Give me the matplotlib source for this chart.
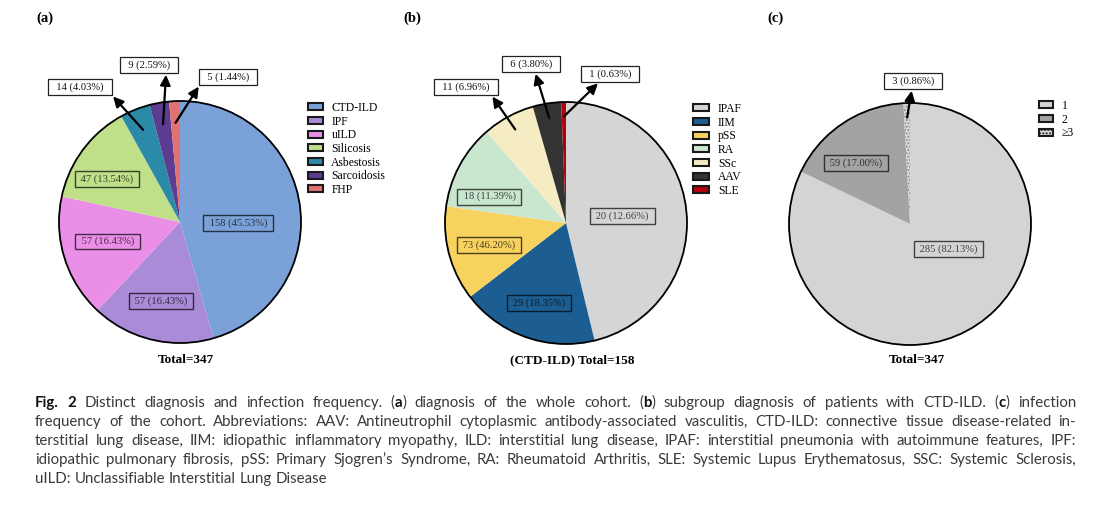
import matplotlib
matplotlib.use("Agg")
import matplotlib.pyplot as plt
import numpy as np
from matplotlib.patches import Circle, Patch
from matplotlib.colors import to_rgb

# ---------------- data ----------------
a_categories = ["CTD-ILD", "IPF", "uILD", "Silicosis", "Asbestosis", "Sarcoidosis", "FHP"]
a_counts = [158, 57, 57, 47, 14, 9, 5]
a_label_counts = [158, 57, 57, 47, 14, 9, 5]
a_total = 347

b_categories = ["IPAF", "IIM", "pSS", "RA", "SSc", "AAV", "SLE"]
b_counts = [73, 29, 20, 18, 11, 6, 1]
b_label_counts = [20, 29, 73, 18, 11, 6, 1]   # numbers as printed on the wedges
b_total = 158

c_categories = ["1", "2", "\u22653"]
c_counts = [285, 59, 3]
c_label_counts = [285, 59, 3]
c_total = 347

panel_letters = ["(a)", "(b)", "(c)"]
panel_totals = ["Total=347", "(CTD-ILD) Total=158", "Total=347"]

caption_lines = [
    "*Fig. 2* Distinct diagnosis and infection frequency. (*a*) diagnosis of the whole cohort. (*b*) subgroup diagnosis of patients with CTD-ILD. (*c*) infection",
    "frequency of the cohort. Abbreviations: AAV: Antineutrophil cytoplasmic antibody-associated vasculitis, CTD-ILD: connective tissue disease-related in-",
    "terstitial lung disease, IIM: idiopathic inflammatory myopathy, ILD: interstitial lung disease, IPAF: interstitial pneumonia with autoimmune features, IPF:",
    "idiopathic pulmonary fibrosis, pSS: Primary Sjogren\u2019s Syndrome, RA: Rheumatoid Arthritis, SLE: Systemic Lupus Erythematosus, SSC: Systemic Sclerosis,",
    "uILD: Unclassifiable Interstitial Lung Disease",
]

# ---------------- styles ----------------
a_colors = ["#7ba2d8", "#a98bd7", "#eb8ee8", "#bfdf89", "#2a8aa8", "#5b3c90", "#e27272"]
b_colors = ["#d5d5d5", "#1c5e92", "#f8d25f", "#c9e6cf", "#f6ecc4", "#333333", "#b3000e"]
c_colors = ["#d4d4d4", "#a3a3a6", "#dadada"]
c_hatches = [None, None, "....."]

W, H = 1114, 507
SERIF = ["Liberation Serif", "DejaVu Serif"]

fig = plt.figure(figsize=(W / 100, H / 100), dpi=100)
fig.patch.set_facecolor("white")


def dark(c, f=0.3):
    r, g, b = to_rgb(c)
    return (r * f, g * f, b * f)


def fmt(n, total):
    return f"{n} ({n / total * 100:.2f}%)"


def panel(xr, yr, center, R, counts, label_counts, total, colors, hatches,
          inner, outer, tail_r):
    x0, x1 = xr
    y0, y1 = yr
    cx, cy = center
    ax = fig.add_axes([x0 / W, 1 - y1 / H, (x1 - x0) / W, (y1 - y0) / H])
    wedges, _ = ax.pie(counts, colors=colors, startangle=90, counterclock=False,
                       radius=1, wedgeprops=dict(linewidth=0))
    for w, h in zip(wedges, hatches):
        if h:
            w.set_hatch(h)
            w.set_edgecolor("#8a8a8a")
            w.set_linewidth(0)
    ax.add_patch(Circle((0, 0), 1, fill=False, lw=1.3, ec="black", zorder=5))
    ax.set_xlim((x0 - cx) / R, (x1 - cx) / R)
    ax.set_ylim((cy - y1) / R, (cy - y0) / R)
    ax.set_aspect("auto")
    ax.axis("off")

    mids = [np.deg2rad((w.theta1 + w.theta2) / 2) for w in wedges]
    for idx, r, off in inner:
        ang = mids[idx] + np.deg2rad(off)
        col = dark(colors[idx])
        ax.text(r * np.cos(ang), r * np.sin(ang), " " + fmt(label_counts[idx], total) + " ",
                ha="center", va="center", fontsize=7.6, family=SERIF, color=col,
                bbox=dict(boxstyle="square,pad=0.3", fc="none", ec=col, lw=1.0),
                zorder=6)
    for idx, (bx, by), rp in outer:
        ang = mids[idx]
        ax.annotate("  " + fmt(label_counts[idx], total) + "  ",
                    xy=(tail_r * np.cos(ang), tail_r * np.sin(ang)),
                    xytext=((bx - cx) / R, (cy - by) / R),
                    ha="center", va="center", fontsize=7.6, family=SERIF, color="#111111",
                    bbox=dict(boxstyle="square,pad=0.3", fc="white", ec="#222222", lw=0.9),
                    arrowprops=dict(arrowstyle="<|-,head_width=0.4,head_length=0.8",
                                    color="black", lw=1.6, shrinkA=1, shrinkB=0,
                                    relpos=rp),
                    zorder=7)
    return wedges


wa = panel((0, 372), (30, 372), (180, 222), 121, a_counts, a_label_counts, a_total,
           a_colors, [None] * 7,
           inner=[(0, 0.48, -9), (1, 0.67, 0), (2, 0.62, -2.3), (3, 0.70, 6.2)],
           outer=[(4, (80, 87), (1.0, 0.0)), (5, (149, 65), (0.83, 0.0)),
                  (6, (228, 77), (0.0, 0.0))],
           tail_r=0.82)
wb = panel((372, 740), (30, 372), (566, 223), 121, b_counts, b_label_counts, b_total,
           b_colors, [None] * 7,
           inner=[(0, 0.47, 0), (1, 0.70, 0.8), (2, 0.66, 1), (3, 0.67, 9.5)],
           outer=[(4, (466, 87), (0.9, 0.0)), (5, (531, 64), (0.56, 0.0)),
                  (6, (610, 74), (0.36, 0.0))],
           tail_r=0.88)
wc = panel((740, 1114), (30, 372), (910, 224), 121, c_counts, c_label_counts, c_total,
           c_colors, c_hatches,
           inner=[(0, 0.38, 25), (1, 0.67, 7.8)],
           outer=[(2, (913, 81), (0.49, 0.0))],
           tail_r=0.88)


def legend(cats, colors, hatches, anchor_px, hl):
    handles = [Patch(facecolor=c, edgecolor="#1a1a1a", lw=1.5, hatch=h)
               for c, h in zip(colors, hatches)]
    fig.legend(handles, cats, loc="upper left",
               bbox_to_anchor=(anchor_px[0] / W, 1 - anchor_px[1] / H),
               frameon=False, prop=dict(family=SERIF, size=8.4),
               handlelength=hl, handleheight=0.55, handletextpad=0.75,
               labelspacing=0.14, borderpad=0, borderaxespad=0)


legend(a_categories, a_colors, [None] * 7, (308, 102), 1.25)
legend(b_categories, b_colors, [None] * 7, (693, 103), 1.4)
legend(c_categories, c_colors, c_hatches, (1039, 100), 1.2)

for letter, x in zip(panel_letters, [45, 412, 776]):
    fig.text(x / W, 1 - 18 / H, letter, ha="center", va="center", fontsize=10.5,
             fontweight="bold", family=SERIF)
for tot, x in zip(panel_totals, [186, 572, 917]):
    fig.text(x / W, 1 - 360 / H, tot, ha="center", va="center", fontsize=9.5,
             fontweight="bold", family=SERIF)

# ---------------- caption (justified) ----------------
renderer = fig.canvas.get_renderer()
CAP_FONT = ["Lato", "DejaVu Sans"]
CAP_SIZE = 10.8
CAP_COLOR = "#3a3a3a"
left_px, right_px = 35, 1076
line_base = [407, 426, 445, 464, 483]


def parse(line):
    words = []
    bold = False
    for word in line.split(" "):
        segs = []
        parts = word.split("*")
        for k, p in enumerate(parts):
            if k > 0:
                bold = not bold
            if p:
                segs.append((p, bold))
        words.append(segs)
    return words


def make_text(s, bold):
    return fig.text(0, 0, s, fontsize=CAP_SIZE, family=CAP_FONT,
                    fontweight="bold" if bold else "normal",
                    color="#111111" if bold else CAP_COLOR,
                    va="baseline", ha="left")


tmp = make_text("a a", False)
w2 = tmp.get_window_extent(renderer).width
tmp.set_text("aa")
space_w = w2 - tmp.get_window_extent(renderer).width
tmp.remove()

for li, (line, yp) in enumerate(zip(caption_lines, line_base)):
    words = parse(line)
    objs = []
    widths = []
    for segs in words:
        wo = []
        ww = 0
        for s, b in segs:
            t = make_text(s, b)
            sw = t.get_window_extent(renderer).width
            wo.append((t, sw))
            ww += sw
        objs.append(wo)
        widths.append(ww)
    if li < len(caption_lines) - 1:
        gap = (right_px - left_px - sum(widths)) / (len(words) - 1)
    else:
        gap = space_w
    x = left_px
    for wo, ww in zip(objs, widths):
        xx = x
        for t, sw in wo:
            t.set_position((xx / W, 1 - yp / H))
            xx += sw
        x += ww + gap

fig.savefig("out.png", dpi=100, facecolor="white")
